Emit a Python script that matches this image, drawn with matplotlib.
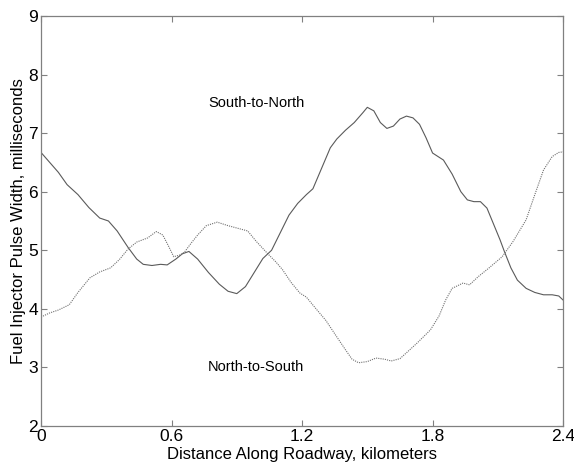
import matplotlib
matplotlib.use("Agg")
import matplotlib.pyplot as plt

plt.rcParams['font.family'] = ['Liberation Sans', 'DejaVu Sans']

# South-to-North (solid)
sn_x = [0.0, 0.04, 0.08, 0.12, 0.17, 0.22, 0.27, 0.31, 0.35, 0.40, 0.44, 0.47, 0.51, 0.55,
        0.58, 0.62, 0.65, 0.68, 0.72, 0.77, 0.82, 0.86, 0.90, 0.94, 0.98, 1.02, 1.06,
        1.10, 1.14, 1.18, 1.22, 1.25, 1.29, 1.33, 1.36, 1.40, 1.44, 1.48, 1.50, 1.53,
        1.56, 1.59, 1.62, 1.65, 1.68, 1.71, 1.74, 1.77, 1.80, 1.85, 1.89, 1.93, 1.96,
        1.99, 2.02, 2.05, 2.08, 2.11, 2.13, 2.16, 2.19, 2.23, 2.27, 2.31, 2.35, 2.38, 2.40]
sn_y = [6.67, 6.50, 6.33, 6.12, 5.95, 5.73, 5.55, 5.50, 5.33, 5.05, 4.85, 4.76, 4.74, 4.76,
        4.75, 4.85, 4.94, 4.98, 4.85, 4.62, 4.42, 4.30, 4.26, 4.38, 4.62, 4.86, 5.00,
        5.30, 5.60, 5.80, 5.95, 6.05, 6.40, 6.75, 6.90, 7.05, 7.18, 7.35, 7.44, 7.38,
        7.18, 7.08, 7.12, 7.24, 7.29, 7.26, 7.15, 6.92, 6.66, 6.54, 6.30, 6.00, 5.86,
        5.83, 5.83, 5.72, 5.45, 5.18, 4.98, 4.70, 4.49, 4.35, 4.28, 4.24, 4.24, 4.22, 4.15]

# North-to-South (dotted)
ns_x = [0.0, 0.04, 0.08, 0.13, 0.17, 0.225, 0.27, 0.32, 0.36, 0.40, 0.44, 0.49, 0.53,
        0.56, 0.585, 0.61, 0.64, 0.66, 0.69, 0.72, 0.76, 0.81, 0.86, 0.90, 0.95, 0.99,
        1.04, 1.08, 1.11, 1.15, 1.19, 1.22, 1.26, 1.31, 1.36, 1.40, 1.43, 1.46, 1.50,
        1.54, 1.58, 1.61, 1.65, 1.68, 1.73, 1.79, 1.83, 1.86, 1.89, 1.94, 1.97, 2.01,
        2.06, 2.12, 2.17, 2.23, 2.27, 2.31, 2.35, 2.38, 2.40]
ns_y = [3.86, 3.93, 3.98, 4.07, 4.28, 4.53, 4.63, 4.70, 4.84, 5.02, 5.14, 5.21, 5.32,
        5.26, 5.08, 4.89, 4.92, 4.97, 5.12, 5.26, 5.42, 5.48, 5.42, 5.38, 5.33, 5.15,
        4.95, 4.80, 4.67, 4.45, 4.27, 4.20, 4.02, 3.80, 3.52, 3.30, 3.14, 3.08, 3.10,
        3.16, 3.14, 3.11, 3.15, 3.25, 3.42, 3.64, 3.88, 4.15, 4.35, 4.44, 4.41, 4.55,
        4.70, 4.89, 5.15, 5.52, 5.95, 6.37, 6.60, 6.67, 6.68]

x_ticks = [0, 0.6, 1.2, 1.8, 2.4]
x_ticklabels = ['0', '0.6', '1.2', '1.8', '2.4']
y_ticks = [2, 3, 4, 5, 6, 7, 8, 9]

fig = plt.figure(figsize=(5.74, 4.66), dpi=100)
ax = fig.add_axes([0.0714, 0.0858, 0.9096, 0.88])

ax.plot(sn_x, sn_y, color='#5a5a5a', lw=0.8, ls='-', solid_joinstyle='round')
ax.plot(ns_x, ns_y, color='#707070', lw=0.8, ls=(0, (1, 1)))

ax.set_xlim(0, 2.4)
ax.set_ylim(2, 9)
ax.set_xticks(x_ticks)
ax.set_xticklabels(x_ticklabels)
ax.set_yticks(y_ticks)
ax.tick_params(direction='in', top=True, right=True, length=4, width=0.8,
               color='#808080', labelsize=12.5, pad=2)
for s in ax.spines.values():
    s.set_color('#808080')
    s.set_linewidth(0.9)

ax.set_xlabel('Distance Along Roadway, kilometers', fontsize=12, labelpad=2)
ax.set_ylabel('Fuel Injector Pulse Width, milliseconds', fontsize=12, labelpad=2)

ax.text(0.99, 7.52, 'South-to-North', ha='center', va='center', fontsize=10.5)
ax.text(0.99, 3.01, 'North-to-South', ha='center', va='center', fontsize=10.5)

fig.savefig('out.png', dpi=100)
